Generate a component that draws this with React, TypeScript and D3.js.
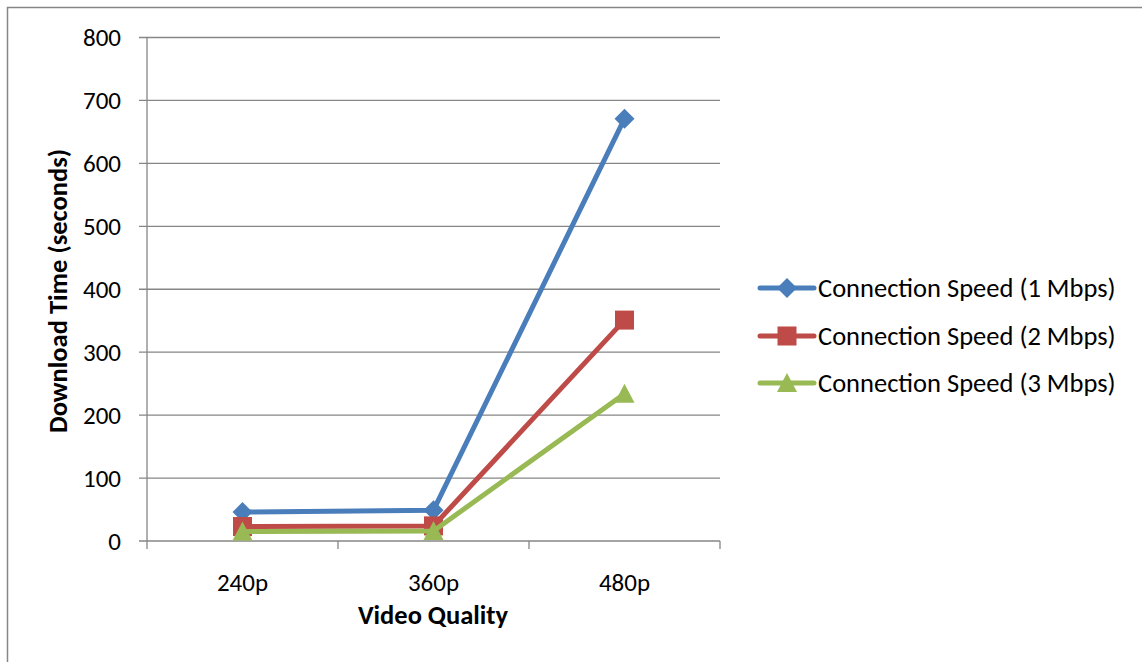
import * as d3 from "d3";
import React from "react";

const categories = ["240p", "360p", "480p"];
const speed1 = [46, 49, 671];
const speed2 = [23, 24, 351];
const speed3 = [15, 16, 234];
const seriesNames = [
  "Connection Speed (1 Mbps)",
  "Connection Speed (2 Mbps)",
  "Connection Speed (3 Mbps)",
];
const yTicks = [0, 100, 200, 300, 400, 500, 600, 700, 800];

const W = 1142;
const H = 662;
const font = "Calibri, Carlito, 'Open Sans', sans-serif";

export default function App() {
  const x = d3.scaleBand().domain(categories).range([147, 720]);
  const y = d3.scaleLinear().domain([0, 800]).range([541, 37.5]);
  const cx = (c: string) => (x(c) as number) + x.bandwidth() / 2;

  const series = [
    { name: seriesNames[0], values: speed1, color: "#4A7EBB", shape: "diamond" },
    { name: seriesNames[1], values: speed2, color: "#BE4B48", shape: "square" },
    { name: seriesNames[2], values: speed3, color: "#98B954", shape: "triangle" },
  ];

  const line = d3
    .line<number>()
    .x((_, i) => cx(categories[i]))
    .y((d) => y(d));

  const marker = (shape: string, px: number, py: number, color: string) => {
    if (shape === "diamond") {
      const r = 10;
      return <path d={`M${px},${py - r}L${px + r},${py}L${px},${py + r}L${px - r},${py}Z`} fill={color} />;
    }
    if (shape === "square") {
      const r = 9.5;
      return <rect x={px - r} y={py - r} width={2 * r} height={2 * r} fill={color} />;
    }
    const r = 10;
    return <path d={`M${px},${py - r}L${px + r},${py + r * 0.9}L${px - r},${py + r * 0.9}Z`} fill={color} />;
  };

  const boundaries = [...categories.map((c) => x(c) as number), 720];
  const legendY = [288, 336, 383];

  return (
    <svg width={W} height={H} style={{ position: "absolute", left: 0, top: 0 }} fontFamily={font}>
      <rect x={0} y={0} width={W} height={H} fill="#fff" />
      <rect x={7.5} y={7.5} width={W + 20} height={H + 20} fill="none" stroke="#868686" strokeWidth={1.5} />

      {/* gridlines */}
      {yTicks.map((t) => (
        <g key={t}>
          <line x1={139} x2={720} y1={y(t)} y2={y(t)} stroke="#868686" strokeWidth={1.3} />
          <text x={121} y={y(t)} dy="0.35em" textAnchor="end" fontSize={25} fill="#000">
            {t}
          </text>
        </g>
      ))}
      <line x1={147} x2={147} y1={y(800)} y2={y(0)} stroke="#868686" strokeWidth={1.3} />
      {boundaries.map((b, i) => (
        <line key={i} x1={b} x2={b} y1={y(0)} y2={y(0) + 8} stroke="#868686" strokeWidth={1.3} />
      ))}
      {categories.map((c) => (
        <text key={c} x={cx(c)} y={582} dy="0.35em" textAnchor="middle" fontSize={25} fill="#000">
          {c}
        </text>
      ))}

      {series.map((s) => (
        <g key={s.name}>
          <path d={line(s.values) as string} fill="none" stroke={s.color} strokeWidth={5} strokeLinejoin="round" />
          {s.values.map((v, i) => (
            <g key={i}>{marker(s.shape, cx(categories[i]), y(v), s.color)}</g>
          ))}
        </g>
      ))}

      <text
        transform="translate(58,291) rotate(-90)"
        textAnchor="middle"
        dy="0.35em"
        fontSize={26.5}
        fontWeight="bold"
        fill="#000"
      >
        Download Time (seconds)
      </text>
      <text x={433} y={615} dy="0.35em" textAnchor="middle" fontSize={26.5} fontWeight="bold" fill="#000">
        Video Quality
      </text>

      {series.map((s, i) => (
        <g key={s.name}>
          <line x1={760} x2={814} y1={legendY[i]} y2={legendY[i]} stroke={s.color} strokeWidth={5} strokeLinecap="round" />
          {marker(s.shape, 787, legendY[i], s.color)}
          <text x={818} y={legendY[i]} dy="0.35em" fontSize={26.5} fill="#000">
            {s.name}
          </text>
        </g>
      ))}
    </svg>
  );
}
